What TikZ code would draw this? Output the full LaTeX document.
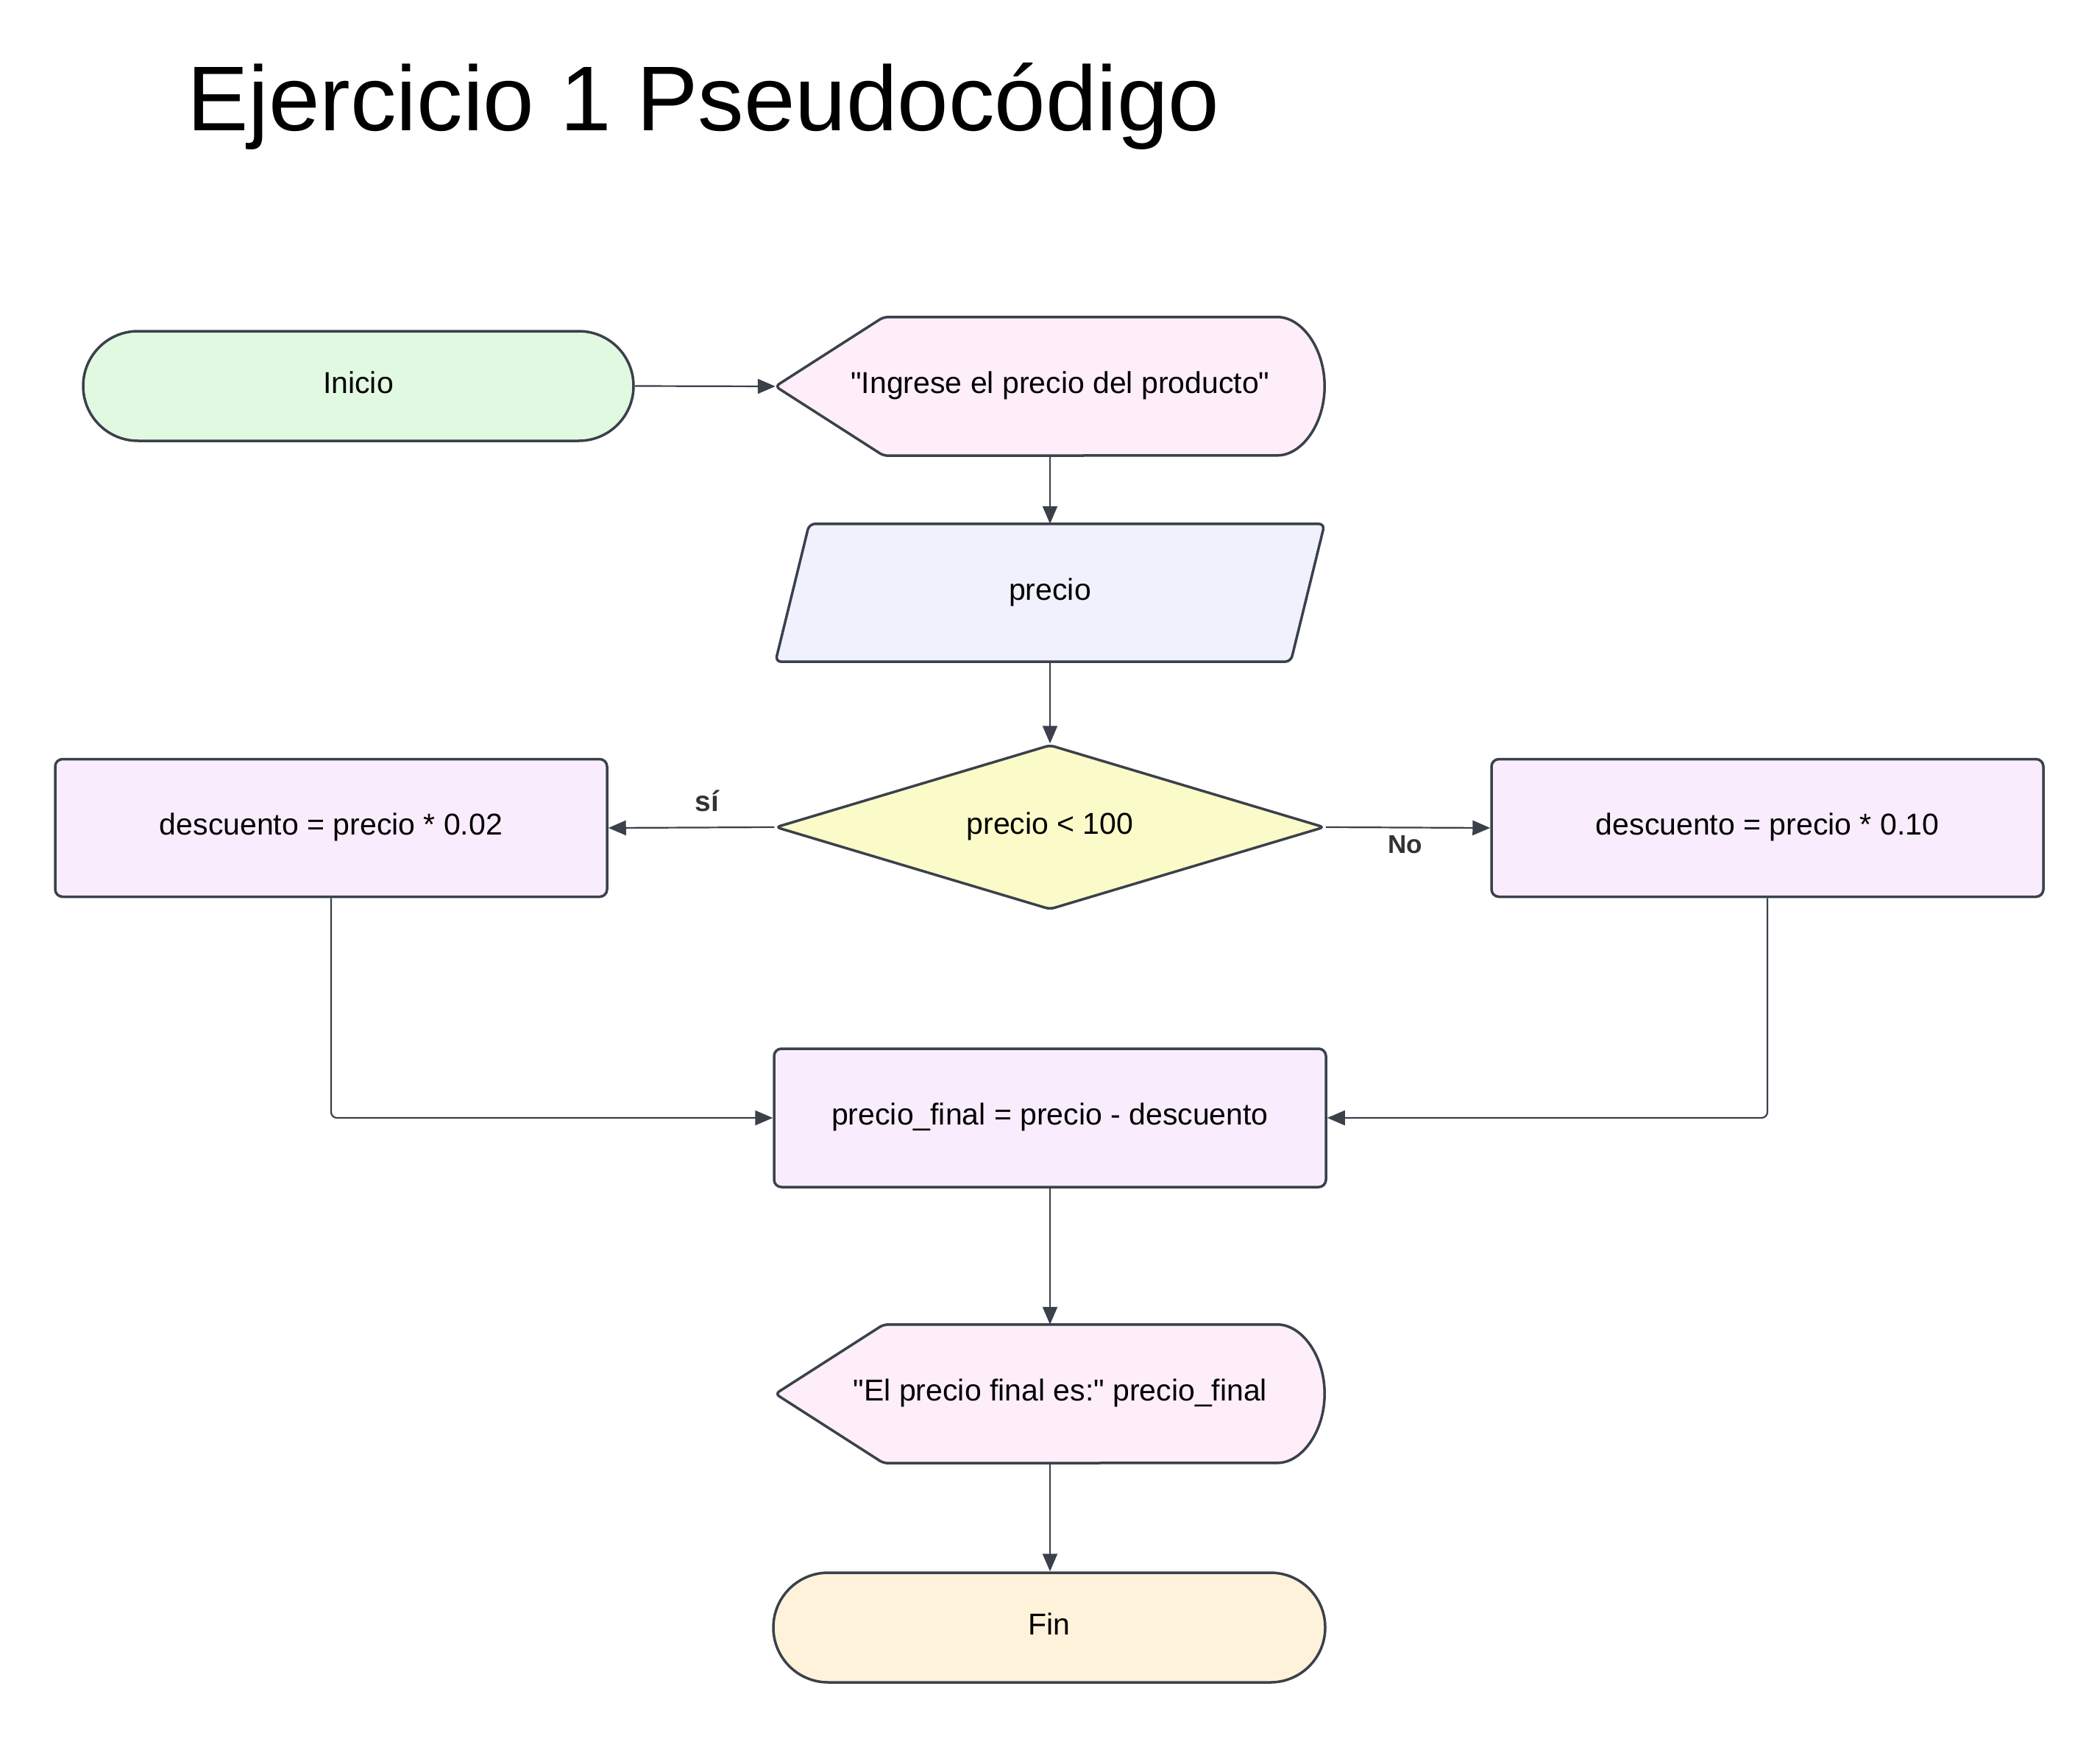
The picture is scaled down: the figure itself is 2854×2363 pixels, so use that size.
\documentclass[tikz,border=0pt]{standalone}
\usepackage{fontspec}
\setmainfont{Liberation Sans}[Ligatures=TeXOff]
\usetikzlibrary{arrows.meta,shapes.misc,shapes.geometric,calc,backgrounds}
\definecolor{edgecol}{HTML}{3A414A}
\definecolor{labcol}{HTML}{333333}
\definecolor{startfill}{HTML}{E1F9E1}
\definecolor{dispfill}{HTML}{FEEEF9}
\definecolor{iofill}{HTML}{F0F1FD}
\definecolor{decfill}{HTML}{FBFBC9}
\definecolor{procfill}{HTML}{F9EDFD}
\definecolor{endfill}{HTML}{FEF3DA}
\begin{document}
\begin{tikzpicture}[x=1pt,y=-1pt,
  txt/.style={font=\fontsize{41}{49}\selectfont, text=black, inner sep=0pt, text height=30pt, text depth=11pt},
  outline/.style={draw=edgecol, line width=3.5pt},
  termbox/.style={txt, outline, rounded rectangle, minimum width=748pt, minimum height=149pt},
  procbox/.style={txt, outline, rectangle, rounded corners=10pt, minimum width=750pt, minimum height=187pt, fill=procfill},
  decbox/.style={txt, outline, diamond, aspect=3.33, rounded corners=6pt, minimum width=746pt, minimum height=224pt, fill=decfill},
  frame/.style={txt, rectangle, minimum width=746pt, minimum height=188pt},
  conn/.style={draw=edgecol, line width=2.2pt, -{Triangle[length=24pt,width=20pt]}},
  lab/.style={font=\fontsize{35}{40}\selectfont\bfseries, text=labcol, inner sep=0pt}
]
\useasboundingbox (0,0) rectangle (2854,2363);

% title
\node[anchor=base west, inner sep=0pt, font=\fontsize{125}{140}\selectfont] (title) at (254,178) {Ejercicio 1 Pseudocódigo};

% nodes
\node[termbox, fill=startfill] (ini) at (487,524.5) {Inicio};
\node[frame] (ing) at (1427,525) {\hspace*{28pt}"Ingrese el precio del producto"};
\node[frame, minimum height=187pt] (prec) at (1427,805.5) {precio};
\node[decbox] (dec) at (1427,1124) {precio < 100};
\node[procbox] (lbox) at (450,1125) {descuento = precio * 0.02};
\node[procbox] (rbox) at (2402,1125) {descuento = precio * 0.10};
\node[procbox, minimum height=188pt] (pf) at (1427,1519) {precio\_final = precio - descuento};
\node[frame] (out) at (1427,1894) {\hspace*{28pt}"El precio final es:" precio\_final};
\node[termbox, fill=endfill, minimum width=750pt] (fin) at (1426,2211.5) {Fin};

% custom shapes on background
\begin{scope}[on background layer]
  \fill[white] (0,0) rectangle (2854,2363);
  \draw[outline, fill=dispfill, rounded corners=6pt]
    (ing.west) -- ($(ing.north west)+(147,0)$) -- ($(ing.north east)+(-70,0)$)
    arc[start angle=90, end angle=-90, x radius=70pt, y radius=94pt]
    -- ($(ing.south west)+(147,0)$) -- cycle;
  \draw[outline, fill=iofill, rounded corners=8pt]
    (prec.south west) -- ($(prec.north west)+(46,0)$) -- (prec.north east)
    -- ($(prec.south east)+(-46,0)$) -- cycle;
  \draw[outline, fill=dispfill, rounded corners=6pt]
    (out.west) -- ($(out.north west)+(147,0)$) -- ($(out.north east)+(-70,0)$)
    arc[start angle=90, end angle=-90, x radius=70pt, y radius=94pt]
    -- ($(out.south west)+(147,0)$) -- cycle;
\end{scope}

% connectors
\draw[conn] (ini.east) -- (ing.west);
\draw[conn] (ing.south) -- (prec.north);
\draw[conn] (prec.south) -- (dec.north);
\draw[conn] (dec.west) -- (lbox.east);
\draw[conn] (dec.east) -- (rbox.west);
\draw[conn, rounded corners=8pt] (lbox.south) |- (pf.west);
\draw[conn, rounded corners=8pt] (rbox.south) |- (pf.east);
\draw[conn] (pf.south) -- (out.north);
\draw[conn] (out.south) -- (out.south |- fin.north);

% labels
\node[lab, font=\fontsize{39}{44}\selectfont\bfseries] (si) at (961,1088) {sí};
\node[lab] (no) at (1910,1148) {No};
\end{tikzpicture}
\end{document}
